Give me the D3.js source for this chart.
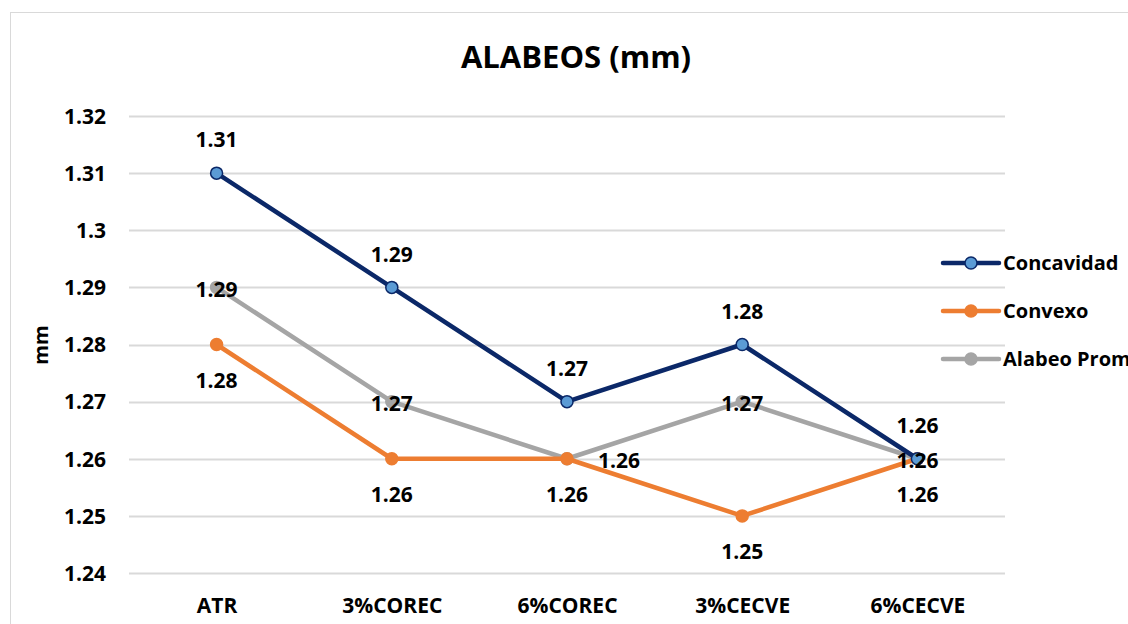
<!DOCTYPE html>
<html>
<head>
<meta charset="utf-8">
<script src="https://cdn.jsdelivr.net/npm/d3@7"></script>
<style>
  html, body { margin: 0; padding: 0; background: #fff; overflow: hidden; }
  svg text { font-family: "Open Sans", "Noto Sans", sans-serif; font-weight: 700; fill: #000; }
</style>
</head>
<body>
<svg id="chart" width="1128" height="624"></svg>
<script>
// Warping (alabeo) measurements per mix, in mm
const categories = ["ATR", "3%COREC", "6%COREC", "3%CECVE", "6%CECVE"];
const concavidad = [1.31, 1.29, 1.27, 1.28, 1.26];
const convexo    = [1.28, 1.26, 1.26, 1.25, 1.26];
const alabeoProm = [1.29, 1.27, 1.26, 1.27, 1.26];
const yTicks = [1.24, 1.25, 1.26, 1.27, 1.28, 1.29, 1.30, 1.31, 1.32];
const yTickLabels = ["1.24", "1.25", "1.26", "1.27", "1.28", "1.29", "1.3", "1.31", "1.32"];

// label placement per series: "above", "below", "center" or "right"
const series = [
  { name: "Concavidad", values: concavidad, line: "#0B2868", fill: "#5B9BD5", stroke: "#0B2868",
    place: ["above", "above", "above", "above", "above"] },
  { name: "Convexo", values: convexo, line: "#ED7D31", fill: "#ED7D31", stroke: "#ED7D31",
    place: ["below", "below", "below", "below", "below"] },
  { name: "Alabeo Promedio", values: alabeoProm, line: "#A5A5A5", fill: "#A5A5A5", stroke: "#A5A5A5",
    place: ["center", "center", "right", "center", "center"] }
];

const svg = d3.select("#chart");

// outer chart frame
svg.append("rect")
  .attr("x", 10.5).attr("y", 12.5)
  .attr("width", 1140).attr("height", 640)
  .attr("fill", "none").attr("stroke", "#D9D9D9").attr("stroke-width", 1);

const plot = { left: 129, right: 1005, top: 116, bottom: 573 };

const x = d3.scalePoint().domain(categories)
  .range([plot.left, plot.right]).padding(0.5);
const y = d3.scaleLinear().domain([1.24, 1.32])
  .range([plot.bottom, plot.top]);

// horizontal gridlines
svg.append("g").selectAll("line").data(yTicks).join("line")
  .attr("x1", plot.left).attr("x2", plot.right)
  .attr("y1", d => Math.round(y(d)) + 0.5).attr("y2", d => Math.round(y(d)) + 0.5)
  .attr("stroke", "#D9D9D9").attr("stroke-width", 2);

// y axis labels
const yAxis = d3.axisLeft(y).tickValues(yTicks)
  .tickFormat((d, i) => yTickLabels[i]).tickSize(0).tickPadding(0);
const gy = svg.append("g").attr("transform", `translate(106,0)`).call(yAxis);
gy.select(".domain").remove();
gy.selectAll("text").style("font-size", "21px").attr("dy", "0.35em");

// x axis labels
const xAxis = d3.axisBottom(x).tickSize(0).tickPadding(0);
const gx = svg.append("g").attr("transform", `translate(0,613)`).call(xAxis);
gx.select(".domain").remove();
gx.selectAll("text").style("font-size", "21px").attr("dy", "0");

// title
svg.append("text").attr("x", 576).attr("y", 68)
  .attr("text-anchor", "middle").style("font-size", "31px")
  .text("ALABEOS (mm)");

// y axis title
svg.append("text")
  .attr("transform", "translate(48,345) rotate(-90)")
  .attr("text-anchor", "middle").style("font-size", "20px")
  .text("mm");

const line = d3.line().x((d, i) => x(categories[i])).y(d => y(d));

// draw series back to front so Concavidad sits on top
const drawOrder = [series[2], series[1], series[0]];
drawOrder.forEach(s => {
  svg.append("path").datum(s.values)
    .attr("d", line).attr("fill", "none")
    .attr("stroke", s.line).attr("stroke-width", 4.5)
    .attr("stroke-linejoin", "round").attr("stroke-linecap", "round");
  svg.append("g").selectAll("circle").data(s.values).join("circle")
    .attr("cx", (d, i) => x(categories[i])).attr("cy", d => y(d))
    .attr("r", 6).attr("fill", s.fill).attr("stroke", s.stroke).attr("stroke-width", 1.5);
});

// value labels
series.forEach(s => {
  svg.append("g").selectAll("text").data(s.values).join("text")
    .attr("x", (d, i) => x(categories[i]) + (s.place[i] === "right" ? 31 : 0))
    .attr("y", (d, i) => {
      const p = s.place[i];
      const cy = y(d);
      if (p === "above") return cy - 33;
      if (p === "below") return cy + 36;
      return cy + 2;
    })
    .attr("dy", "0.35em")
    .attr("text-anchor", (d, i) => s.place[i] === "right" ? "start" : "middle")
    .style("font-size", "21px")
    .text(d => d.toFixed(2));
});

// legend
const legend = svg.append("g");
series.forEach((s, i) => {
  const ly = 263 + i * 48;
  const g = legend.append("g").attr("transform", `translate(943,${ly})`);
  g.append("line").attr("x1", 0).attr("x2", 56).attr("y1", 0).attr("y2", 0)
    .attr("stroke", s.line).attr("stroke-width", 4.5).attr("stroke-linecap", "round");
  g.append("circle").attr("cx", 28).attr("cy", 0).attr("r", 6)
    .attr("fill", s.fill).attr("stroke", s.stroke).attr("stroke-width", 1.5);
  g.append("text").attr("x", 60).attr("y", 0).attr("dy", "0.35em")
    .style("font-size", "20px").text(s.name);
});
</script>
</body>
</html>
